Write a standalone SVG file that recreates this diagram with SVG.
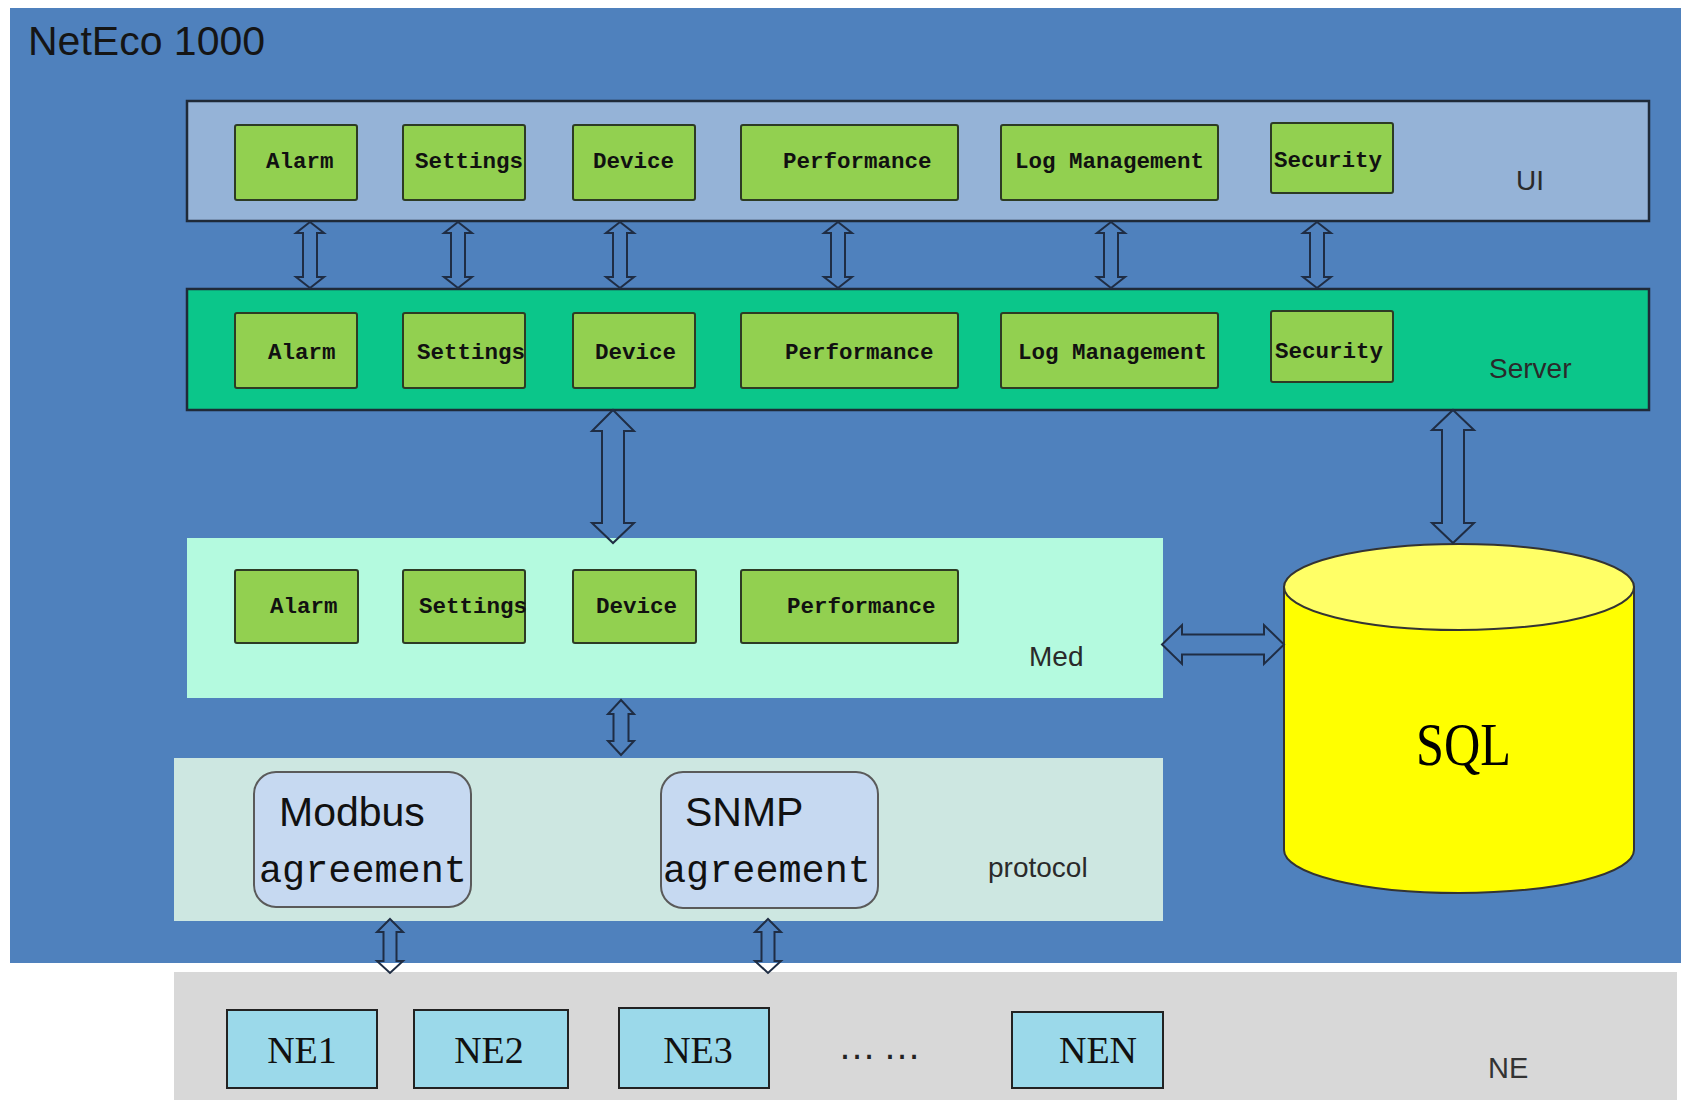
<svg xmlns="http://www.w3.org/2000/svg" width="1681" height="1100" viewBox="0 0 1681 1100">
  <style>
    .mod { fill: #92d050; stroke: #2d3b24; stroke-width: 2; }
    .modtxt { font-family: "Liberation Mono", "DejaVu Sans Mono", monospace; font-weight: bold; font-size: 22.5px; fill: #111; }
    .lbl { font-family: "Liberation Sans", Arial, sans-serif; font-size: 28px; fill: #2a2a2a; }
    .arrow { fill: none; stroke: #1f2d44; stroke-width: 2; stroke-linejoin: miter; }
    .proto { fill: #c6d9f1; stroke: #5a5a5a; stroke-width: 2; }
    .ne { fill: #9bd9ea; stroke: #222; stroke-width: 2; }
    .netxt { font-family: "Liberation Serif", "Times New Roman", serif; font-size: 38px; fill: #111; }
  </style>

  <!-- page background and system frame -->
  <rect x="0" y="0" width="1681" height="1100" fill="#ffffff"/>
  <rect id="system" x="10" y="8" width="1671" height="955" fill="#4f81bd"/>
  <text x="28" y="55" font-family="Liberation Sans, Arial, sans-serif" font-size="41" fill="#151515">NetEco 1000</text>

  <!-- UI layer -->
  <g id="layer-ui">
    <rect x="187" y="101" width="1462" height="120" fill="#95b3d7" stroke="#1f2a38" stroke-width="2.5"/>
    <text class="lbl" x="1516" y="190" fill="#1c2a3c">UI</text>
  </g>
  <g id="ui-alarm"><rect class="mod" x="235" y="125" width="122" height="75" rx="2"/><text class="modtxt" x="266" y="167.5">Alarm</text></g>
  <g id="ui-settings"><rect class="mod" x="403" y="125" width="122" height="75" rx="2"/><text class="modtxt" x="415" y="167.5">Settings</text></g>
  <g id="ui-device"><rect class="mod" x="573" y="125" width="122" height="75" rx="2"/><text class="modtxt" x="593" y="167.5">Device</text></g>
  <g id="ui-performance"><rect class="mod" x="741" y="125" width="217" height="75" rx="2"/><text class="modtxt" x="783" y="167.5">Performance</text></g>
  <g id="ui-log"><rect class="mod" x="1001" y="125" width="217" height="75" rx="2"/><text class="modtxt" x="1015" y="167.5">Log Management</text></g>
  <g id="ui-security"><rect class="mod" x="1271" y="123" width="122" height="70" rx="2"/><text class="modtxt" x="1274" y="167">Security</text></g>

  <!-- Server layer -->
  <g id="layer-server">
    <rect x="187" y="289" width="1462" height="121" fill="#0bc68a" stroke="#1f2a38" stroke-width="2.5"/>
    <text class="lbl" x="1489" y="378" fill="#1d3b35">Server</text>
  </g>
  <g id="srv-alarm"><rect class="mod" x="235" y="313" width="122" height="75" rx="2"/><text class="modtxt" x="268" y="359">Alarm</text></g>
  <g id="srv-settings"><rect class="mod" x="403" y="313" width="122" height="75" rx="2"/><text class="modtxt" x="417" y="359">Settings</text></g>
  <g id="srv-device"><rect class="mod" x="573" y="313" width="122" height="75" rx="2"/><text class="modtxt" x="595" y="359">Device</text></g>
  <g id="srv-performance"><rect class="mod" x="741" y="313" width="217" height="75" rx="2"/><text class="modtxt" x="785" y="359">Performance</text></g>
  <g id="srv-log"><rect class="mod" x="1001" y="313" width="217" height="75" rx="2"/><text class="modtxt" x="1018" y="359">Log Management</text></g>
  <g id="srv-security"><rect class="mod" x="1271" y="311" width="122" height="71" rx="2"/><text class="modtxt" x="1275" y="358">Security</text></g>

  <!-- Med layer -->
  <g id="layer-med">
    <rect x="187" y="538" width="976" height="160" fill="#b4fadf"/>
    <text class="lbl" x="1029" y="666" fill="#333">Med</text>
  </g>
  <g id="med-alarm"><rect class="mod" x="235" y="570" width="123" height="73" rx="2"/><text class="modtxt" x="270" y="613">Alarm</text></g>
  <g id="med-settings"><rect class="mod" x="403" y="570" width="122" height="73" rx="2"/><text class="modtxt" x="419" y="613">Settings</text></g>
  <g id="med-device"><rect class="mod" x="573" y="570" width="123" height="73" rx="2"/><text class="modtxt" x="596" y="613">Device</text></g>
  <g id="med-performance"><rect class="mod" x="741" y="570" width="217" height="73" rx="2"/><text class="modtxt" x="787" y="613">Performance</text></g>

  <!-- protocol layer -->
  <g id="layer-protocol">
    <rect x="174" y="758" width="989" height="163" fill="#cde7e1"/>
    <text class="lbl" x="988" y="877" fill="#333">protocol</text>
  </g>
  <g id="modbus">
    <rect class="proto" x="254" y="772" width="217" height="135" rx="22"/>
    <text x="279" y="826" font-family="Liberation Sans, Arial, sans-serif" font-size="41" fill="#111">Modbus</text>
    <text x="259" y="882" font-family="Liberation Mono, Courier New, monospace" font-size="38.5" fill="#111">agreement</text>
  </g>
  <g id="snmp">
    <rect class="proto" x="661" y="772" width="217" height="136" rx="22"/>
    <text x="685" y="826" font-family="Liberation Sans, Arial, sans-serif" font-size="41" fill="#111">SNMP</text>
    <text x="663" y="882" font-family="Liberation Mono, Courier New, monospace" font-size="38.5" fill="#111">agreement</text>
  </g>

  <!-- SQL database -->
  <g id="sql">
    <path d="M1284,587 L1284,850 A175,43 0 0 0 1634,850 L1634,587 Z" fill="#ffff00" stroke="#333" stroke-width="2"/>
    <ellipse cx="1459" cy="587" rx="175" ry="43" fill="#ffff66" stroke="#333" stroke-width="2"/>
    <text x="1416" y="765" font-family="Liberation Serif, Times New Roman, serif" font-size="62" textLength="95" lengthAdjust="spacingAndGlyphs" fill="#000">SQL</text>
  </g>

  <!-- NE layer -->
  <g id="layer-ne">
    <rect x="174" y="972" width="1503" height="128" fill="#d8d8d8"/>
    <text x="1488" y="1078" font-family="Liberation Sans, Arial, sans-serif" font-size="29" fill="#333">NE</text>
    <text x="838" y="1059" font-family="Liberation Sans, Arial, sans-serif" font-size="38" letter-spacing="7" fill="#222">……</text>
  </g>
  <g id="ne1"><rect class="ne" x="227" y="1010" width="150" height="78"/><text class="netxt" x="302" y="1063" text-anchor="middle">NE1</text></g>
  <g id="ne2"><rect class="ne" x="414" y="1010" width="154" height="78"/><text class="netxt" x="489" y="1063" text-anchor="middle">NE2</text></g>
  <g id="ne3"><rect class="ne" x="619" y="1008" width="150" height="80"/><text class="netxt" x="698" y="1063" text-anchor="middle">NE3</text></g>
  <g id="nen"><rect class="ne" x="1012" y="1012" width="151" height="76"/><text class="netxt" x="1098" y="1063" text-anchor="middle">NEN</text></g>

  <!-- connectors: hollow double-headed block arrows -->
  <g id="connectors">
    <!-- UI to Server -->
    <path class="arrow" d="M310,222 L324,233 L317,233 L317,277 L324,277 L310,288 L296,277 L303,277 L303,233 L296,233 Z"/>
    <path class="arrow" d="M458,222 L472,233 L465,233 L465,277 L472,277 L458,288 L444,277 L451,277 L451,233 L444,233 Z"/>
    <path class="arrow" d="M620,222 L634,233 L627,233 L627,277 L634,277 L620,288 L606,277 L613,277 L613,233 L606,233 Z"/>
    <path class="arrow" d="M838,222 L852,233 L845,233 L845,277 L852,277 L838,288 L824,277 L831,277 L831,233 L824,233 Z"/>
    <path class="arrow" d="M1111,222 L1125,233 L1118,233 L1118,277 L1125,277 L1111,288 L1097,277 L1104,277 L1104,233 L1097,233 Z"/>
    <path class="arrow" d="M1317,222 L1331,233 L1324,233 L1324,277 L1331,277 L1317,288 L1303,277 L1310,277 L1310,233 L1303,233 Z"/>
    <!-- Server to Med -->
    <path class="arrow" d="M613,410 L634,431 L624,431 L624,523 L634,523 L613,543 L592,523 L602,523 L602,431 L592,431 Z"/>
    <!-- Server to SQL -->
    <path class="arrow" d="M1453,410 L1474,430 L1464,430 L1464,523 L1474,523 L1453,543 L1432,523 L1442,523 L1442,430 L1432,430 Z"/>
    <!-- Med to SQL -->
    <path class="arrow" d="M1162,644.5 L1182,625 L1182,634.5 L1264,634.5 L1264,625 L1284,644.5 L1264,664 L1264,654.5 L1182,654.5 L1182,664 Z"/>
    <!-- Med to protocol -->
    <path class="arrow" d="M621,700 L634,714 L628.5,714 L628.5,741 L634,741 L621,755 L608,741 L613.5,741 L613.5,714 L608,714 Z"/>
    <!-- protocol to NE -->
    <path class="arrow" d="M390,919 L403,932 L396.5,932 L396.5,961 L403,961 L390,973 L377,961 L383.5,961 L383.5,932 L377,932 Z"/>
    <path class="arrow" d="M768,919 L781,932 L774.5,932 L774.5,961 L781,961 L768,973 L755,961 L761.5,961 L761.5,932 L755,932 Z"/>
  </g>
</svg>
